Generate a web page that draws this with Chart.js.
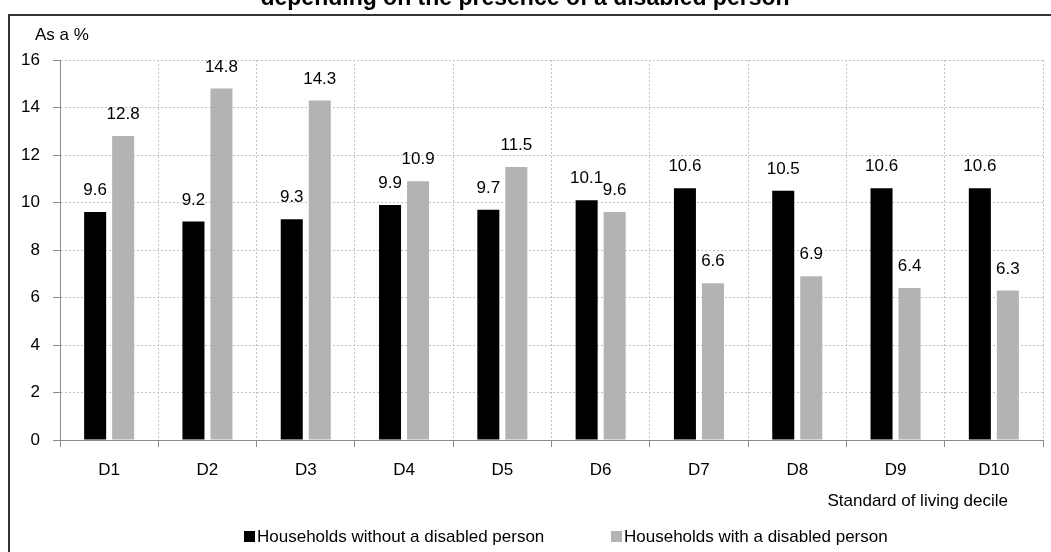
<!DOCTYPE html>
<html>
<head>
<meta charset="utf-8">
<script src="https://cdn.jsdelivr.net/npm/chart.js@4.4.1/dist/chart.umd.min.js"></script>
<style>
  html, body { margin: 0; padding: 0; background: #ffffff; }
  #wrap { position: relative; width: 1051px; height: 552px; overflow: hidden; }
  canvas { display: block; }
</style>
</head>
<body>
<div id="wrap"><canvas id="chart" width="1051" height="552"></canvas></div>
<script>
// Standard of living deciles
const categories = ['D1', 'D2', 'D3', 'D4', 'D5', 'D6', 'D7', 'D8', 'D9', 'D10'];

// Share of households in each decile, as a %
const withoutDisabled = [9.6, 9.2, 9.3, 9.9, 9.7, 10.1, 10.6, 10.5, 10.6, 10.6];
const withDisabled = [12.8, 14.8, 14.3, 10.9, 11.5, 9.6, 6.6, 6.9, 6.4, 6.3];

const seriesNames = ['Households without a disabled person', 'Households with a disabled person'];

// Value axis
const yMin = 0;
const yMax = 16;
const yStep = 2;

const titleText = 'depending on the presence of a disabled person';
const unitText = 'As a %';
const xAxisTitle = 'Standard of living decile';

const FONT = '"Liberation Sans", Arial, sans-serif';
const BLACK = '#000000';
const GREY = '#b3b3b3';

// Frame, title, unit label, axis title and legend
const decorPlugin = {
  id: 'decor',
  beforeDraw(chart) {
    const ctx = chart.ctx;
    ctx.save();
    ctx.fillStyle = '#ffffff';
    ctx.fillRect(0, 0, chart.width, chart.height);
    // frame
    ctx.strokeStyle = '#333333';
    ctx.lineWidth = 2;
    ctx.beginPath();
    ctx.moveTo(9, chart.height + 5);
    ctx.lineTo(9, 15);
    ctx.lineTo(chart.width + 5, 15);
    ctx.stroke();
    // title (top edge cut off)
    ctx.fillStyle = '#000';
    ctx.font = 'bold 23px ' + FONT;
    ctx.textAlign = 'center';
    ctx.textBaseline = 'alphabetic';
    ctx.fillText(titleText, 525, 5);
    ctx.restore();
  },
  afterDraw(chart) {
    const ctx = chart.ctx;
    ctx.save();
    ctx.fillStyle = '#000';
    ctx.font = '17px ' + FONT;
    ctx.textBaseline = 'middle';
    ctx.textAlign = 'left';
    ctx.fillText(unitText, 35, 35);
    ctx.textAlign = 'right';
    ctx.fillText(xAxisTitle, 1008, 501);
    // legend
    const items = [{ x: 244, tx: 257 }, { x: 611, tx: 624 }];
    chart.data.datasets.forEach((ds, i) => {
      ctx.fillStyle = ds.backgroundColor;
      ctx.fillRect(items[i].x, 531, 11, 11);
      ctx.fillStyle = '#000';
      ctx.textAlign = 'left';
      ctx.fillText(ds.label, items[i].tx, 537);
    });
    ctx.restore();
  }
};

// Value labels above each bar
const valueLabels = {
  id: 'valueLabels',
  afterDatasetsDraw(chart) {
    const ctx = chart.ctx;
    ctx.save();
    ctx.fillStyle = '#000';
    ctx.font = '17px ' + FONT;
    ctx.textAlign = 'center';
    ctx.textBaseline = 'middle';
    chart.data.datasets.forEach((ds, i) => {
      chart.getDatasetMeta(i).data.forEach((bar, j) => {
        ctx.fillText(ds.data[j].toFixed(1), bar.x, bar.y - 21.5);
      });
    });
    ctx.restore();
  }
};

const gridCommon = {
  color: '#c4c4c4',
  lineWidth: 1,
  drawTicks: true,
  tickLength: 7,
  tickColor: '#8a8a8a',
  tickWidth: 1,
  tickBorderDash: []
};
const borderCommon = { display: true, color: '#8a8a8a', width: 1, dash: [2, 2] };

new Chart(document.getElementById('chart'), {
  type: 'bar',
  data: {
    labels: categories,
    datasets: [
      { label: seriesNames[0], data: withoutDisabled, backgroundColor: BLACK, borderWidth: 0 },
      { label: seriesNames[1], data: withDisabled, backgroundColor: GREY, borderWidth: 0 }
    ]
  },
  options: {
    responsive: false,
    animation: false,
    devicePixelRatio: 1,
    datasets: { bar: { barPercentage: 0.786, categoryPercentage: 0.57 } },
    layout: { padding: { top: 60, left: 0, right: 8, bottom: 0 } },
    plugins: { legend: { display: false }, tooltip: { enabled: false }, title: { display: false } },
    scales: {
      x: {
        grid: Object.assign({ offset: true }, gridCommon),
        border: borderCommon,
        ticks: { color: '#000', font: { family: FONT, size: 17 }, padding: 13, maxRotation: 0, autoSkip: false },
        afterFit(scale) { scale.height = 112; }
      },
      y: {
        min: yMin,
        max: yMax,
        grid: gridCommon,
        border: borderCommon,
        ticks: { stepSize: yStep, color: '#000', font: { family: FONT, size: 17 }, padding: 13 },
        afterFit(scale) { scale.width = 60; }
      }
    }
  },
  plugins: [decorPlugin, valueLabels]
});
</script>
</body>
</html>
